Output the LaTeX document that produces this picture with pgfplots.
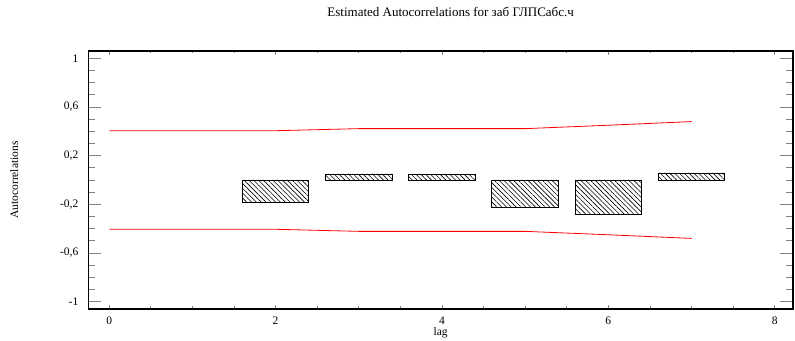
\documentclass[border=0pt]{standalone}
\usepackage{pgfplots}
\pgfplotsset{compat=1.18}
\usepackage{fontspec}
\setmainfont{Liberation Serif}
\usetikzlibrary{patterns.meta}
\begin{document}
\fontsize{11.5pt}{13pt}\selectfont
\begin{tikzpicture}
\begin{axis}[
  at={(88.3pt,31pt)}, anchor=south west,
  scale only axis, width=704.7pt, height=258pt,
  xmin=-0.252, xmax=8.22, ymin=-1.06, ymax=1.06,
  axis line style={line width=1.3pt},
  xtick={0,2,4,6,8},
  ytick={-1,-0.6,-0.2,0.2,0.6,1},
  yticklabels={{-1},{-0,6},{-0,2},{0,2},{0,6},{1}},
  xticklabels={0,2,4,6,8},
  minor x tick num=3, minor y tick num=3,
  tick align=inside,
  major tick length=13pt, minor tick length=7pt,
  xtick style={/pgfplots/major tick length=4pt,/pgfplots/minor tick length=2.5pt, line width=0.8pt},
  ytick style={line width=0.9pt},
  yticklabel style={xshift=-6pt},
  xticklabel style={yshift=-4pt},
  title={Estimated Autocorrelations for заб ГЛПСабс.ч},
  title style={at={(axis description cs:0.5,1)}, anchor=center, yshift=33pt, xshift=10pt, font=\fontsize{13pt}{15pt}\selectfont},
  xlabel={lag},
  xlabel style={at={(axis description cs:0.5,0)}, anchor=center, yshift=-24pt},
  ylabel={Autocorrelations},
  ylabel style={at={(axis description cs:-0.105,0.5)}, anchor=center, rotate=0},
]
\addplot[ybar, bar width=0.8, draw=black, line width=0.8pt,
  pattern={Lines[angle=-45,distance=3.4pt,line width=0.6pt]}]
  coordinates {(2,-0.187) (3,0.05) (4,0.042) (5,-0.222) (6,-0.28) (7,0.058)};
\addplot[red, line width=0.8pt] coordinates {(0,0.405)(1,0.405)(2,0.405)(3,0.422)(4,0.422)(5,0.422)(6,0.45)(7,0.48)};
\addplot[red, line width=0.8pt] coordinates {(0,-0.405)(1,-0.405)(2,-0.405)(3,-0.422)(4,-0.422)(5,-0.422)(6,-0.45)(7,-0.48)};
\end{axis}
\pgfresetboundingbox
\path (0,0) rectangle (795pt,340pt);
\end{tikzpicture}
\end{document}
